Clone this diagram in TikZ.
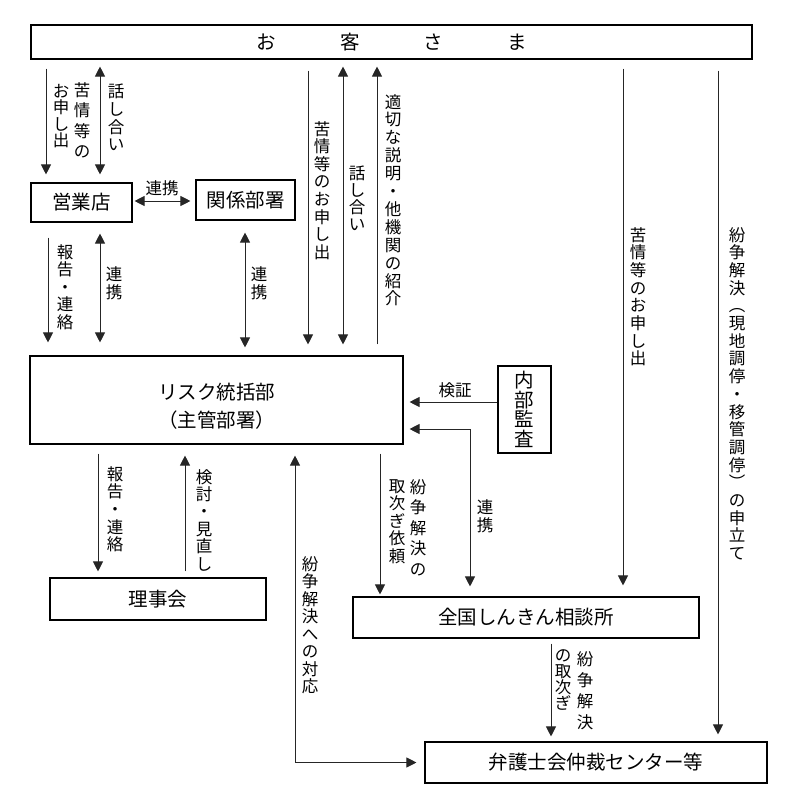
\documentclass[tikz,border=0pt]{standalone}
\usepackage{fontspec}
\setmainfont{Noto Sans CJK JP}
\usetikzlibrary{arrows.meta,calc}
\newcommand\vstack[2]{\vbox{\baselineskip=#1\lineskiplimit=-1000pt\lineskip=0pt\vsaux#2\relax}}
\def\vsaux#1{\ifx\relax#1\else\hbox to 1em{\hss#1\hss}\expandafter\vsaux\fi}
\tikzset{
  box/.style={draw=black, line width=1.1pt, inner sep=0pt, font=\fontsize{19.5}{28}\selectfont},
  arr/.style={draw=black!85, line width=0.9pt, -{Triangle[length=10pt,width=10pt]}},
  darr/.style={draw=black!85, line width=0.9pt, {Triangle[length=10pt,width=10pt]}-{Triangle[length=10pt,width=10pt]}},
  lab/.style={inner sep=0pt, anchor=north, font=\fontsize{16.5}{18}\selectfont},
  hlab/.style={inner sep=0pt, font=\fontsize{16.5}{18}\selectfont},
}
\begin{document}
\begin{tikzpicture}[x=1pt,y=-1pt]
\useasboundingbox (0,0) rectangle (800,808);
% boxes
\node[box, minimum width=721pt, minimum height=34pt] (kyaku) at (391.5,42) {お\hspace{64pt}客\hspace{64pt}さ\hspace{64pt}ま};
\node[box, minimum width=101pt, minimum height=39pt] (eigyo) at (81.5,202.5) {営業店};
\node[box, minimum width=99pt, minimum height=40pt] (kankei) at (245.5,200) {関係部署};
\node[box, minimum width=373pt, minimum height=88pt] (risk) at (216.5,400) {};
\node[font=\fontsize{19.5}{28}\selectfont, align=center, inner sep=0pt] (risktext) at (216.5,406) {リスク統括部\\（主管部署）};
\node[box, minimum width=53pt, minimum height=87pt] (naibu) at (524.5,409.5) {};
\node[inner sep=0pt, anchor=north, font=\fontsize{19.5}{22}\selectfont] (naibutext) at (524.5,371) {\vstack{19.5pt}{内部監査}};
\node[box, minimum width=216pt, minimum height=42pt] (rijikai) at (158,599) {理事会};
\node[box, minimum width=346pt, minimum height=41pt] (zenkoku) at (526,617.5) {全国しんきん相談所};
\node[box, minimum width=342pt, minimum height=41pt] (bengo) at (596,762.5) {弁護士会仲裁センター等};
% coordinates for connector columns/rows
\coordinate (x46) at (46,0);
\coordinate (x48) at (48,0);
\coordinate (x98) at (98,0);
\coordinate (x100) at (100,0);
\coordinate (x185) at (185,0);
\coordinate (x245) at (245,0);
\coordinate (x295) at (295,0);
\coordinate (x308) at (308,0);
\coordinate (x343) at (343,0);
\coordinate (x377) at (377,0);
\coordinate (x380) at (380,0);
\coordinate (x470) at (470,0);
\coordinate (x551) at (551,0);
\coordinate (x623) at (623,0);
\coordinate (x718) at (718,0);
\coordinate (y201) at (0,201);
\coordinate (y402) at (0,402);
\coordinate (y429) at (0,429);
% connectors
\draw[arr, shorten <=9pt, shorten >=8pt] (kyaku.south -| x46) -- (eigyo.north -| x46);
\draw[darr, shorten <=7pt, shorten >=8pt] (kyaku.south -| x100) -- (eigyo.north -| x100);
\draw[darr, shorten <=2pt, shorten >=5pt] (eigyo.east |- y201) -- (kankei.west |- y201);
\draw[arr, shorten <=15pt, shorten >=13pt] (eigyo.south -| x48) -- (risk.north -| x48);
\draw[darr, shorten <=11pt, shorten >=13pt] (eigyo.south -| x100) -- (risk.north -| x100);
\draw[darr, shorten <=12pt, shorten >=8pt] (kankei.south -| x245) -- (risk.north -| x245);
\draw[arr, shorten <=11pt, shorten >=11pt] (kyaku.south -| x308) -- (risk.north -| x308);
\draw[darr, shorten <=7pt, shorten >=11pt] (kyaku.south -| x343) -- (risk.north -| x343);
\draw[arr, shorten <=11pt, shorten >=7pt] (risk.north -| x377) -- (kyaku.south -| x377);
\draw[arr, shorten <=9pt, shorten >=11pt] (kyaku.south -| x623) -- (zenkoku.north -| x623);
\draw[arr, shorten <=11pt, shorten >=7pt] (kyaku.south -| x718) -- (bengo.north -| x718);
\draw[arr, shorten >=6pt] (naibu.west |- y402) -- (risk.east |- y402);
\draw[darr, shorten <=10pt, shorten >=6pt] (zenkoku.north -| x470) -- (x470 |- y429) -- (risk.east |- y429);
\draw[arr, shorten <=9pt, shorten >=6pt] (risk.south -| x98) -- (rijikai.north -| x98);
\draw[arr, shorten <=6pt, shorten >=11pt] (rijikai.north -| x185) -- (risk.south -| x185);
\draw[darr, shorten <=11pt, shorten >=8pt] (risk.south -| x295) -- (x295 |- bengo.west) -- (bengo.west);
\draw[arr, shorten <=9pt, shorten >=2pt] (risk.south -| x380) -- (zenkoku.north -| x380);
\draw[arr, shorten <=5pt, shorten >=5pt] (zenkoku.south -| x551) -- (bengo.north -| x551);
% labels
\node[lab] (l1) at (82,82) {\vstack{20.5pt}{苦情等の}};
\node[lab] (l2) at (61,84) {\vstack{16.5pt}{お申し出}};
\node[lab] (l3) at (116,84) {\vstack{17.7pt}{話し合い}};
\node[hlab] (l0) at (162,188) {連携};
\node[lab] (l4) at (65,244) {\vstack{17.5pt}{報告・連絡}};
\node[lab] (l5) at (114,266) {\vstack{18pt}{連携}};
\node[lab] (l6) at (259,266) {\vstack{18pt}{連携}};
\node[lab] (l7) at (322,121) {\vstack{17.6pt}{苦情等のお申し出}};
\node[lab] (l8) at (357,166) {\vstack{17pt}{話し合い}};
\node[lab] (l9) at (393,94) {\vstack{17.9pt}{適切な説明・他機関の紹介}};
\node[lab] (l10) at (638,227) {\vstack{17.7pt}{苦情等のお申し出}};
\node[lab] (l11) at (737,227) {\vstack{17.7pt}{紛争解決︵現地調停・移管調停︶の申立て}};
\node[hlab] (l12) at (455,390) {検証};
\node[lab] (l13) at (418,479) {\vstack{20.5pt}{紛争解決の}};
\node[lab] (l14) at (397,479) {\vstack{17.5pt}{取次ぎ依頼}};
\node[lab] (l15) at (485,499) {\vstack{18pt}{連携}};
\node[lab] (l16) at (115,466) {\vstack{17.7pt}{報告・連絡}};
\node[lab] (l17) at (204,469) {\vstack{17.4pt}{検討・見直し}};
\node[lab] (l18) at (310,556) {\vstack{17.5pt}{紛争解決への対応}};
\node[lab] (l19) at (585,651) {\vstack{21pt}{紛争解決}};
\node[lab] (l20) at (563,649) {\vstack{16pt}{の取次ぎ}};
\end{tikzpicture}
\end{document}
